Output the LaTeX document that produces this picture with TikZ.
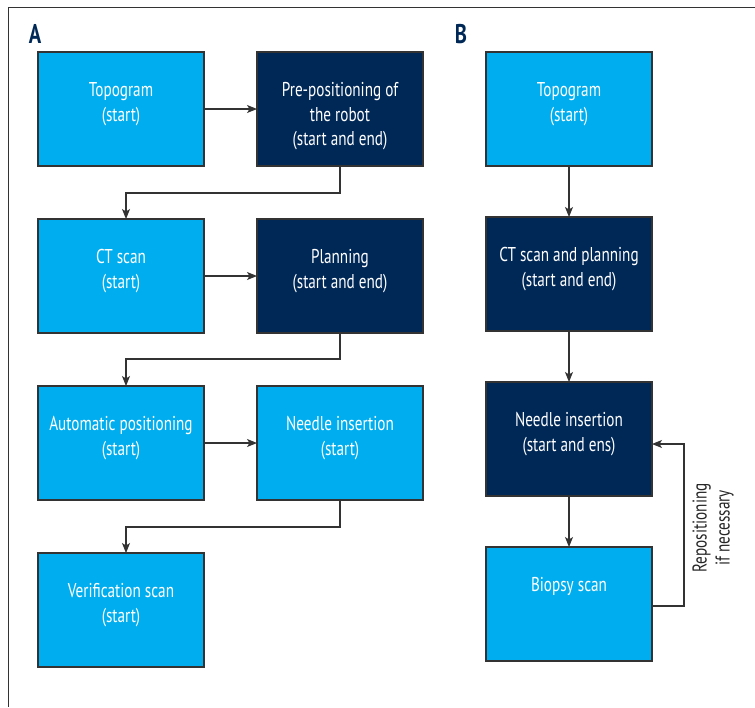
\documentclass[tikz,border=0pt]{standalone}
\usepackage{fontspec}
\setmainfont{PT Sans}[FakeStretch=0.76]
\usetikzlibrary{arrows.meta, positioning, calc}
\definecolor{cLight}{RGB}{0,174,239}
\definecolor{cDark}{RGB}{0,40,87}
\definecolor{cLine}{RGB}{51,51,51}
\tikzset{
	lightbox/.style={rectangle, draw=cLine, line width=1.2pt, fill=cLight, minimum width=166pt, minimum height=114pt, inner sep=0pt, outer sep=0pt},
	darkbox/.style ={lightbox, fill=cDark},
	txt/.style     ={anchor=north, yshift=-30.5pt, align=center, inner sep=0pt, text=white, font=\fontsize{20}{24.5}\selectfont},
	link/.style    ={-{Stealth[length=10pt, width=8pt, inset=2.5pt]}, line width=1.1pt, draw=cLine},
	panel/.style   ={font=\fontsize{27}{30}\selectfont\bfseries, text=cDark, inner sep=0pt},
}
\begin{document}
\begin{tikzpicture}[x=1pt, y=1pt]
	\useasboundingbox (0,0) rectangle (755,-707);
	\draw[cLine, line width=1pt] (755,-7) -- (8,-7) -- (8,-707);
	% panel A
	\node[panel] (pA) at (35,-34) {A};
	\node[lightbox, label={[txt]north:{Topogram\\(start)}}] (a1) at (121,-109) {};
	\node[darkbox, right=53pt of a1, label={[txt]north:{Pre-positioning of\\the robot\\(start and end)}}] (a2) {};
	\node[lightbox, below=53pt of a1, label={[txt]north:{CT scan\\(start)}}] (a3) {};
	\node[darkbox, right=53pt of a3, label={[txt]north:{Planning\\(start and end)}}] (a4) {};
	\node[lightbox, below=53pt of a3, label={[txt]north:{Automatic positioning\\(start)}}] (a5) {};
	\node[lightbox, right=53pt of a5, label={[txt]north:{Needle insertion\\(start)}}] (a6) {};
	\node[lightbox, below=53pt of a5, label={[txt]north:{Verification scan\\(start)}}] (a7) {};
	\draw[link] (a1) -- (a2);
	\draw[link] (a2.south) -- ++(0,-27) -| ([xshift=5pt]a3.north);
	\draw[link] (a3) -- (a4);
	\draw[link] (a4.south) -- ++(0,-26) -| ([xshift=5pt]a5.north);
	\draw[link] (a5) -- (a6);
	\draw[link] (a6.south) -- ++(0,-27) -| ([xshift=5pt]a7.north);
	% panel B
	\node[panel] (pB) at (461,-34) {B};
	\node[lightbox, label={[txt]north:{Topogram\\(start)}}] (b1) at (569,-109) {};
	\node[darkbox, below=51pt of b1, label={[txt]north:{CT scan and planning\\(start and end)}}] (b2) {};
	\node[darkbox, below=51pt of b2, label={[txt]north:{Needle insertion\\(start and ens)}}] (b3) {};
	\node[lightbox, below=51pt of b3, label={[txt]north:{Biopsy scan}}] (b4) {};
	\draw[link] (b1) -- (b2);
	\draw[link] (b2) -- (b3);
	\draw[link] (b3) -- (b4);
	\draw[link] ([yshift=-2pt]b4.east) -- ++(32,0) |- ([yshift=-5pt]b3.east);
	\node[rotate=90, align=center, inner sep=0pt, text=black!85, font=\fontsize{20}{23}\selectfont] (rep) at (713,-528) {Repositioning\\if necessary};
\end{tikzpicture}
\end{document}
